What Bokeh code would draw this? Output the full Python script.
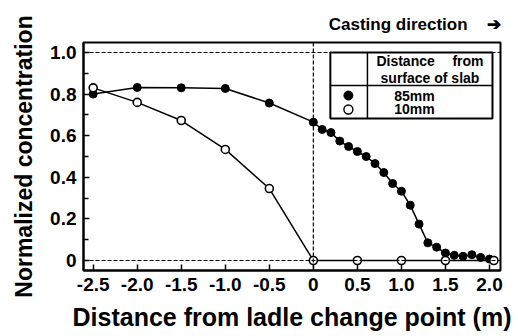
from bokeh.plotting import figure
from bokeh.models import Range1d, FixedTicker, Span, Title
from bokeh.core.properties import value
from bokeh.embed import file_html
from bokeh.resources import INLINE

# 85 mm from surface of slab (filled circles)
x85 = [-2.5, -2.0, -1.5, -1.0, -0.5, 0.0, 0.1, 0.2, 0.3, 0.4, 0.5, 0.6, 0.7,
       0.8, 0.9, 1.0, 1.1, 1.2, 1.3, 1.4, 1.5, 1.6, 1.7, 1.8, 1.9, 2.0]
y85 = [0.80, 0.832, 0.83, 0.827, 0.757, 0.665, 0.63, 0.615, 0.574, 0.548, 0.524,
       0.50, 0.466, 0.423, 0.37, 0.333, 0.266, 0.175, 0.085, 0.064, 0.036, 0.025,
       0.02, 0.028, 0.015, 0.007]
# 10 mm from surface of slab (open circles)
x10 = [-2.5, -2.0, -1.5, -1.0, -0.5, 0.0, 0.5, 1.0, 1.5, 2.05]
y10 = [0.83, 0.76, 0.673, 0.534, 0.346, 0.0, 0.0, 0.0, 0.0, 0.0]

x_ticks = [-2.5, -2.0, -1.5, -1.0, -0.5, 0.0, 0.5, 1.0, 1.5, 2.0]
x_tick_labels = ["-2.5", "-2.0", "-1.5", "-1.0", "-0.5", "0", "0.5", "1.0", "1.5", "2.0"]
y_ticks = [0.0, 0.2, 0.4, 0.6, 0.8, 1.0]
y_minor = [0.1, 0.3, 0.5, 0.7, 0.9]
y_tick_labels = ["0", "0.2", "0.4", "0.6", "0.8", "1.0"]

FONT = "Liberation Sans"

p = figure(width=518, height=336, output_backend="svg", toolbar_location=None,
           x_range=Range1d(-2.61, 2.125), y_range=Range1d(-0.048, 1.048),
           min_border_left=83, min_border_right=18, min_border_top=42,
           min_border_bottom=66)
p.background_fill_color = "white"
p.border_fill_color = "white"
p.xgrid.visible = False
p.ygrid.visible = False
p.outline_line_color = "black"
p.outline_line_width = 2

p.title = Title(text="Casting direction\u00a0\u00a0\u00a0\u00a0\u2794", align="right",
                text_font=FONT, text_font_size="17px", text_font_style="bold",
                text_color="black", standoff=17)

p.xaxis.ticker = FixedTicker(ticks=x_ticks, minor_ticks=[])
p.xaxis.major_label_overrides = {t: l for t, l in zip(x_ticks, x_tick_labels)}
p.yaxis.ticker = FixedTicker(ticks=y_ticks, minor_ticks=y_minor)
p.yaxis.major_label_overrides = {t: l for t, l in zip(y_ticks, y_tick_labels)}

for ax in (p.xaxis[0], p.yaxis[0]):
    ax.axis_line_width = 2
    ax.axis_line_color = "black"
    ax.major_tick_in = 6
    ax.major_tick_out = 0
    ax.minor_tick_in = 5
    ax.minor_tick_out = 0
    ax.major_tick_line_width = 1.5
    ax.minor_tick_line_width = 1.5
    ax.major_label_text_font = FONT
    ax.major_label_text_font_style = "bold"
    ax.major_label_text_font_size = "19px"
    ax.major_label_text_color = "black"
    ax.axis_label_text_font = FONT
    ax.axis_label_text_font_style = "bold"
    ax.axis_label_text_color = "black"
    ax.major_label_standoff = 7

p.xaxis.axis_label = "Distance from ladle change point (m)"
p.yaxis.axis_label = "Normalized concentration"
p.xaxis.axis_label_text_font_size = "25px"
p.yaxis.axis_label_text_font_size = "23px"
p.xaxis.axis_label_standoff = 9
p.yaxis.axis_label_standoff = 10

# dashed reference lines
for loc, dim in ((1.0, "width"), (0.0, "width"), (0.0, "height")):
    p.add_layout(Span(location=loc, dimension=dim, line_color="black",
                      line_width=1.2, line_dash="4 2"))

# data
p.line(x85, y85, line_color="black", line_width=1.5)
p.line(x10, y10, line_color="black", line_width=1.5)
p.scatter(x85, y85, size=8, marker="circle", fill_color="black", line_color="black")
p.scatter(x10, y10, size=8, marker="circle", fill_color="white", line_color="black",
          line_width=1.6)

# legend table
L, R, B, T = 0.193, 2.034, 0.683, 1.0
DIVX, DIVY = 0.614, 0.841
p.quad(left=[L], right=[R], bottom=[B], top=[T], fill_color="white",
       line_color="black", line_width=2, level="overlay")
p.segment(x0=[DIVX, L], y0=[B, DIVY], x1=[DIVX, R], y1=[T, DIVY],
          line_color="black", line_width=1.5, level="overlay")
p.scatter([0.398], [0.793], size=9, fill_color="black", line_color="black", level="overlay")
p.scatter([0.398], [0.726], size=9, fill_color="white", line_color="black",
          line_width=1.4, level="overlay")
txt = dict(text_font=value(FONT), text_font_style="bold", text_font_size="14px",
           text_baseline="middle", text_color="black", level="overlay")
p.text(x=[0.716], y=[0.957], text=["Distance"], text_align="left", **txt)
p.text(x=[1.932], y=[0.957], text=["from"], text_align="right", **txt)
p.text(x=[1.324], y=[0.875], text=["surface of slab"], text_align="center", **txt)
p.text(x=[1.148], y=[0.793], text=["85mm"], text_align="center", **txt)
p.text(x=[1.148], y=[0.726], text=["10mm"], text_align="center", **txt)

open("out.html", "w").write(file_html(p, INLINE))
